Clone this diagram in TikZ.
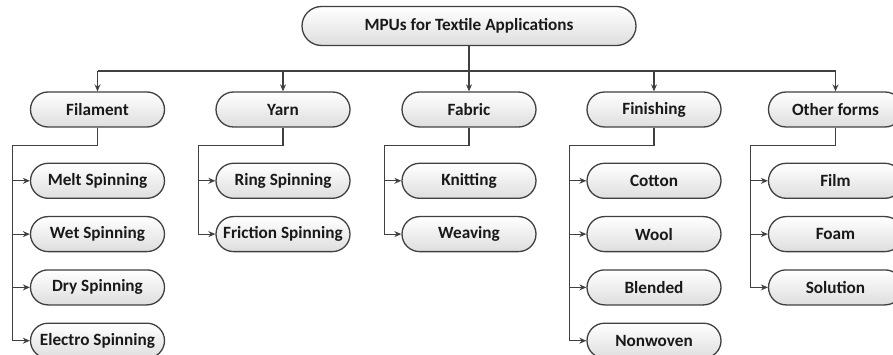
\documentclass[tikz,border=0pt]{standalone}
\usepackage{fontspec}
\setmainfont{Carlito}
\usetikzlibrary{positioning,shapes.misc,arrows.meta}

\begin{document}
\begin{tikzpicture}[x=1pt, y=-1pt, node distance=17pt,
        box/.style={rounded rectangle, draw=black!75, line width=1.3pt,
            top color=white, bottom color=black!13, text=black!90,
            minimum width=134pt, minimum height=35pt, inner sep=0pt,
            font=\fontsize{17.2}{20}\selectfont\bfseries},
        head/.style={box, minimum width=334pt, minimum height=39pt},
        link/.style={draw=black!75, line width=1.1pt},
        arr/.style={link, -{Stealth[length=7pt, width=6pt]}}]
        \useasboundingbox (0,0) rectangle (893,355);

        % Define nodes
        \node[head]                    (mpu)  at (469,26)     {MPUs for Textile Applications};
        \node[box]                     (fil)  at (97.5,109.5) {Filament};
        \node[box]                     (yarn) at (283,109.5)  {Yarn};
        \node[box]                     (fab)  at (469,109.5)  {Fabric};
        \node[box]                     (fin)  at (654,109.5)  {Finishing};
        \node[box]                     (oth)  at (835.5,109.5) {Other forms};

        \node[box, below=35pt of fil]  (melt) {Melt Spinning};
        \node[box, below=of melt]      (wet)  {Wet Spinning};
        \node[box, below=of wet]       (dry)  {Dry Spinning};
        \node[box, below=of dry]       (elec) {Electro Spinning};

        \node[box, below=35pt of yarn] (ring) {Ring Spinning};
        \node[box, below=of ring]      (fric) {Friction Spinning};

        \node[box, below=35pt of fab]  (knit) {Knitting};
        \node[box, below=of knit]      (weav) {Weaving};

        \node[box, below=35pt of fin]  (cot)  {Cotton};
        \node[box, below=of cot]       (wool) {Wool};
        \node[box, below=of wool]      (blen) {Blended};
        \node[box, below=of blen]      (nonw) {Nonwoven};

        \node[box, below=35pt of oth]  (film) {Film};
        \node[box, below=of film]      (foam) {Foam};
        \node[box, below=of foam]      (sol)  {Solution};

        % Connect the nodes
        \coordinate (bus) at (0,71);
        \draw[link] (mpu.south) -- (mpu.south |- bus);
        \draw[link] (fil.north |- bus) -- (oth.north |- bus);
        \foreach \p in {fil,yarn,fab,fin,oth}
            \draw[arr] (\p.north |- bus) -- (\p.north);

        \foreach \c in {melt,wet,dry,elec}
            \draw[arr] (fil.south) -- ++(0,17.5) -| ([xshift=-17pt]\c.west) -- (\c.west);
        \foreach \c in {ring,fric}
            \draw[arr] (yarn.south) -- ++(0,17.5) -| ([xshift=-17pt]\c.west) -- (\c.west);
        \foreach \c in {knit,weav}
            \draw[arr] (fab.south) -- ++(0,17.5) -| ([xshift=-17pt]\c.west) -- (\c.west);
        \foreach \c in {cot,wool,blen,nonw}
            \draw[arr] (fin.south) -- ++(0,17.5) -| ([xshift=-17pt]\c.west) -- (\c.west);
        \foreach \c in {film,foam,sol}
            \draw[arr] (oth.south) -- ++(0,17.5) -| ([xshift=-17pt]\c.west) -- (\c.west);

    \end{tikzpicture}
\end{document}
